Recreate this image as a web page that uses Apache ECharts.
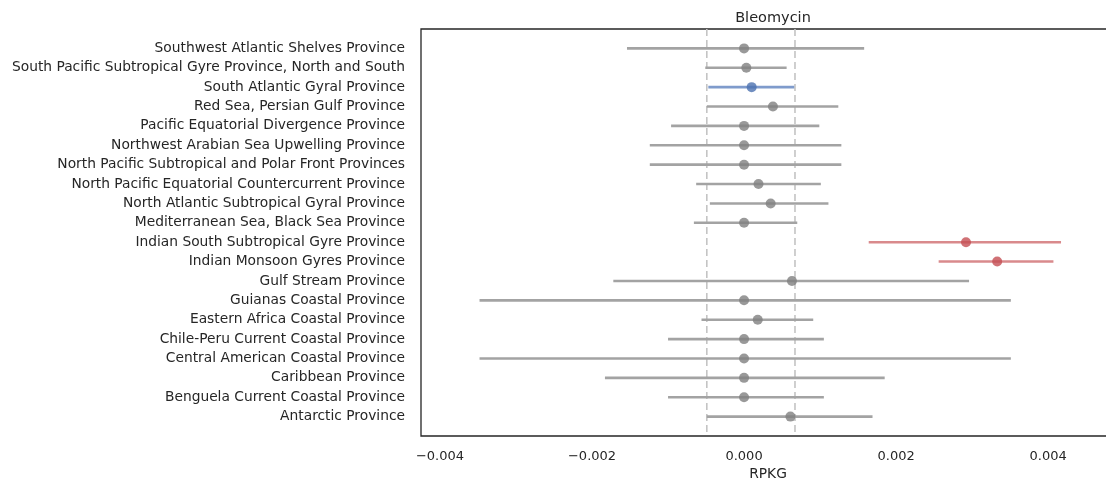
<!DOCTYPE html>
<html>
<head>
<meta charset="utf-8">
<script src="https://cdn.jsdelivr.net/npm/echarts@6/dist/echarts.min.js"></script>
<style>
html,body{margin:0;padding:0;background:#fff;overflow:hidden;width:1106px;height:480px;}
#chart{width:1118px;height:480px;}
</style>
</head>
<body>
<div id="chart"></div>
<script>
const title = 'Bleomycin';
const xName = 'RPKG';
const categories = [
  'Southwest Atlantic Shelves Province',
  'South Pacific Subtropical Gyre Province, North and South',
  'South Atlantic Gyral Province',
  'Red Sea, Persian Gulf Province',
  'Pacific Equatorial Divergence Province',
  'Northwest Arabian Sea Upwelling Province',
  'North Pacific Subtropical and Polar Front Provinces',
  'North Pacific Equatorial Countercurrent Province',
  'North Atlantic Subtropical Gyral Province',
  'Mediterranean Sea, Black Sea Province',
  'Indian South Subtropical Gyre Province',
  'Indian Monsoon Gyres Province',
  'Gulf Stream Province',
  'Guianas Coastal Province',
  'Eastern Africa Coastal Province',
  'Chile-Peru Current Coastal Province',
  'Central American Coastal Province',
  'Caribbean Province',
  'Benguela Current Coastal Province',
  'Antarctic Province'
];
const means = [0.0, 0.00003, 0.0001, 0.00038, 0.0, 0.0, 0.0, 0.00019, 0.00035, 0.0,
  0.00292, 0.00333, 0.00063, 0.0, 0.00018, 0.0, 0.0, 0.0, 0.0, 0.00061];
const lower = [-0.00154, -0.00051, -0.00047, -0.00049, -0.00096, -0.00124, -0.00124, -0.00063, -0.00045, -0.00066,
  0.00164, 0.00256, -0.00172, -0.00348, -0.00056, -0.00100, -0.00348, -0.00183, -0.00100, -0.00049];
const upper = [0.00158, 0.00056, 0.00066, 0.00124, 0.00099, 0.00128, 0.00128, 0.00101, 0.00111, 0.00070,
  0.00417, 0.00407, 0.00296, 0.00351, 0.00091, 0.00105, 0.00351, 0.00185, 0.00105, 0.00169];
// 'ref' = reference group, 'up' = significantly higher, 'ns' = not significant
const group = ['ns','ns','ref','ns','ns','ns','ns','ns','ns','ns',
  'up','up','ns','ns','ns','ns','ns','ns','ns','ns'];
const refBand = [-0.00049, 0.00067];
const xTicks = [-0.004, -0.002, 0, 0.002, 0.004];

const dotColor = {ns: '#808080', ref: '#4c72b0', up: '#c44e52'};
const barColor = {ns: '#a3a3a3', ref: '#7f9bcc', up: '#d98a8c'};

const errData = categories.map((c, i) => [lower[i], upper[i], i]);
const dotData = categories.map((c, i) => ({value: [means[i], i], itemStyle: {color: dotColor[group[i]]}}));
const refData = refBand.map(v => [v]);

const chart = echarts.init(document.getElementById('chart'));
const txt = '#262626';
const font = 'DejaVu Sans';
const yMin = -1, yMax = 20;
chart.setOption({
  animation: false,
  title: {text: title, left: 768, top: 6, textAlign: 'center',
    textStyle: {fontFamily: font, fontSize: 14.5, fontWeight: 'normal', color: txt}},
  grid: {left: 421, right: 3, top: 29, bottom: 44, outerBoundsMode: 'none', containLabel: false,
    show: true, borderColor: '#262626', borderWidth: 1.3, backgroundColor: 'transparent'},
  xAxis: {
    type: 'value', min: -0.00425, max: 0.00488,
    name: xName, nameLocation: 'middle', nameGap: 31,
    nameTextStyle: {fontFamily: font, fontSize: 13.8, color: txt},
    axisLine: {show: false}, axisTick: {show: false}, splitLine: {show: false},
    axisLabel: {customValues: xTicks, margin: 14, fontFamily: font, fontSize: 13, color: txt,
      formatter: v => (v < 0 ? '\u2212' : '') + Math.abs(v).toFixed(3)}
  },
  yAxis: {
    type: 'value', inverse: true, min: yMin, max: yMax, interval: 1,
    axisLine: {show: false}, axisTick: {show: false}, splitLine: {show: false},
    axisLabel: {margin: 16, fontFamily: font, fontSize: 13.8, color: txt,
      formatter: v => (v >= 0 && v < categories.length && Number.isInteger(v)) ? categories[v] : ''}
  },
  series: [
    {
      type: 'custom', data: refData, z: 1, silent: true,
      renderItem: (params, api) => {
        const a = api.coord([api.value(0), yMin]);
        const b = api.coord([api.value(0), yMax]);
        return {type: 'line', shape: {x1: a[0], y1: a[1], x2: b[0], y2: b[1]},
          style: {stroke: '#c4c4c4', lineWidth: 1.6, lineDash: [7, 4]}};
      }
    },
    {
      type: 'custom', data: errData, z: 2,
      renderItem: (params, api) => {
        const i = api.value(2);
        const a = api.coord([api.value(0), i]);
        const b = api.coord([api.value(1), i]);
        return {type: 'line', shape: {x1: a[0], y1: a[1], x2: b[0], y2: b[1]},
          style: {stroke: barColor[group[i]], lineWidth: 2.6}};
      }
    },
    {
      type: 'scatter', data: dotData, symbol: 'circle', symbolSize: 10, z: 3
    }
  ]
});
</script>
</body>
</html>
